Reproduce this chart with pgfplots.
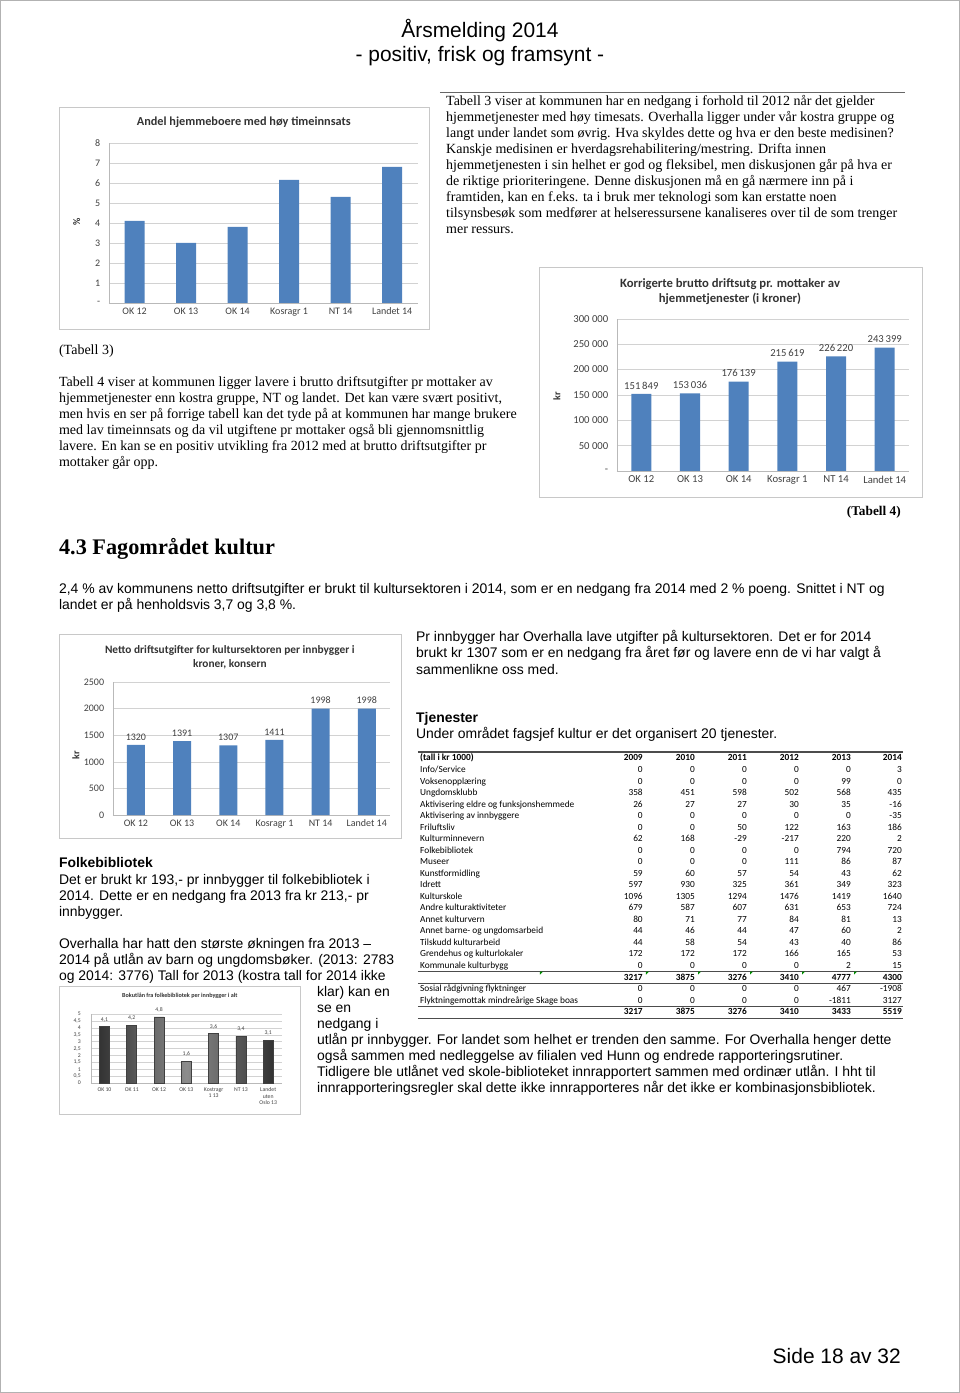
\documentclass[border=0pt]{standalone}
\usepackage{fontspec}
\setmainfont{Liberation Serif}
\newfontfamily\arial{Liberation Sans}
\newfontfamily\calib{Carlito}
\usepackage{pgfplots}
\pgfplotsset{compat=1.18}
\definecolor{xlblue}{HTML}{4F81BD}
\definecolor{framec}{HTML}{C8C8C8}

\pgfplotsset{xlbar/.style={
    ybar, scale only axis, anchor=south west,
    axis lines*=left, axis line style={draw=gray!55},
    ymajorgrids, grid style={gray!35},
    major tick length=0pt, ymin=0,
    xmin=-0.5, xmax=5.5, xtick={0,...,5},
    scaled y ticks=false,
    tick label style={font=\calib\fontsize{7.5}{8}\selectfont, text=black!75},
    yticklabel style={xshift=-3pt},
    /pgf/number format/assume math mode=true,
    every node near coord/.append style={font=\calib\fontsize{7.5}{8}\selectfont, text=black!75},
}}

\newcommand\T[3]{\node[anchor=base west,inner sep=0pt] at (#1,#2) {#3};}
\newcommand\R[8]{%
  \node[anchor=base west,inner sep=0pt] at (420,#1) {#2};
  \node[anchor=base east,inner sep=0pt] at (643,#1) {#3};
  \node[anchor=base east,inner sep=0pt] at (695,#1) {#4};
  \node[anchor=base east,inner sep=0pt] at (747,#1) {#5};
  \node[anchor=base east,inner sep=0pt] at (799,#1) {#6};
  \node[anchor=base east,inner sep=0pt] at (851,#1) {#7};
  \node[anchor=base east,inner sep=0pt] at (902,#1) {#8};}

\begin{document}
\begin{tikzpicture}
\begin{scope}[x=0.75pt,y=-0.75pt]
% page
\draw[gray!60] (0.5,0.5) rectangle (959.5,1392.5);
% header
\node[font=\arial\fontsize{15.7}{18}\selectfont] at (480,31) {Årsmelding 2014};
\node[font=\arial\fontsize{15.7}{18}\selectfont] at (480,56) {- positiv, frisk og framsynt -};
\draw[gray!80!black, line width=0.6pt] (440,93) -- (905,93);

% chart frames
\draw[framec] (59,107) rectangle (429,329);
\draw[framec] (539,267) rectangle (922,497);
\draw[framec] (59,634) rectangle (401,838);
\draw[framec] (59,986) rectangle (300,1114);

% chart titles and axis labels
\node[font=\calib\bfseries\fontsize{9.2}{10}\selectfont, text=black!80] at (244,122) {Andel hjemmeboere med høy timeinnsats};
\node[font=\calib\bfseries\fontsize{7.5}{9}\selectfont, rotate=90, text=black!80] at (77,222) {\%};
\node[font=\calib\bfseries\fontsize{9.5}{10}\selectfont, text=black!80] at (730,284) {Korrigerte brutto driftsutg pr. mottaker av};
\node[font=\calib\bfseries\fontsize{9.5}{10}\selectfont, text=black!80] at (730,299) {hjemmetjenester (i kroner)};
\node[font=\calib\bfseries\fontsize{7.5}{9}\selectfont, rotate=90, text=black!80] at (557,396) {kr};
\node[font=\calib\bfseries\fontsize{8.5}{9}\selectfont, text=black!80] at (230,650) {Netto driftsutgifter for kultursektoren per innbygger i};
\node[font=\calib\bfseries\fontsize{8.5}{9}\selectfont, text=black!80] at (230,664) {kroner, konsern};
\node[font=\calib\bfseries\fontsize{7.5}{9}\selectfont, rotate=90, text=black!80] at (76,755) {kr};
\node[font=\calib\bfseries\fontsize{4.6}{6}\selectfont, text=black!80] at (180,996) {Bokutlån fra folkebibliotek per innbygger i alt};

% anchors for axes
\coordinate (c1) at (109,303);
\coordinate (c2) at (617,471);
\coordinate (c3) at (113,815);
\coordinate (c4) at (91,1083);

% Times text
\begin{scope}[font=\fontsize{10.5}{12}\selectfont]
\T{446}{106}{Tabell 3 viser at kommunen har en nedgang i forhold til 2012 når det gjelder}
\T{446}{122}{hjemmetjenester med høy timesats. Overhalla ligger under vår kostra gruppe og}
\T{446}{138}{langt under landet som øvrig. Hva skyldes dette og hva er den beste medisinen?}
\T{446}{154}{Kanskje medisinen er hverdagsrehabilitering/mestring. Drifta innen}
\T{446}{170}{hjemmetjenesten i sin helhet er god og fleksibel, men diskusjonen går på hva er}
\T{446}{186}{de riktige prioriteringene. Denne diskusjonen må en gå nærmere inn på i}
\T{446}{202}{framtiden, kan en f.eks. ta i bruk mer teknologi som kan erstatte noen}
\T{446}{218}{tilsynsbesøk som medfører at helseressursene kanaliseres over til de som trenger}
\T{446}{234}{mer ressurs.}
\T{59}{355}{(Tabell 3)}
\T{59}{387}{Tabell 4 viser at kommunen ligger lavere i brutto driftsutgifter pr mottaker av}
\T{59}{403}{hjemmetjenester enn kostra gruppe, NT og landet. Det kan være svært positivt,}
\T{59}{419}{men hvis en ser på forrige tabell kan det tyde på at kommunen har mange brukere}
\T{59}{435}{med lav timeinnsats og da vil utgiftene pr mottaker også bli gjennomsnittlig}
\T{59}{451}{lavere. En kan se en positiv utvikling fra 2012 med at brutto driftsutgifter pr}
\T{59}{467}{mottaker går opp.}
\node[anchor=base east, inner sep=0pt, font=\bfseries] at (901,516) {(Tabell 4)};
\end{scope}
\node[anchor=base west, inner sep=0pt, font=\bfseries\fontsize{16.7}{19}\selectfont] at (59,555) {4.3 Fagområdet kultur};

% Arial text
\begin{scope}[font=\arial\fontsize{10.45}{12}\selectfont]
\T{59}{594}{2,4 \% av kommunens netto driftsutgifter er brukt til kultursektoren i 2014, som er en nedgang fra 2014 med 2 \% poeng. Snittet i NT og}
\T{59}{610}{landet er på henholdsvis 3,7 og 3,8 \%.}
\T{416}{642}{Pr innbygger har Overhalla lave utgifter på kultursektoren. Det er for 2014}
\T{416}{658}{brukt kr 1307 som er en nedgang fra året før og lavere enn de vi har valgt å}
\T{416}{674}{sammenlikne oss med.}
\T{416}{722}{\bfseries Tjenester}
\T{416}{738}{Under området fagsjef kultur er det organisert 20 tjenester.}
\T{59}{867}{\bfseries Folkebibliotek}
\T{59}{884}{Det er brukt kr 193,- pr innbygger til folkebibliotek i}
\T{59}{900}{2014. Dette er en nedgang fra 2013 fra kr 213,- pr}
\T{59}{916}{innbygger.}
\T{59}{948}{Overhalla har hatt den største økningen fra 2013 –}
\T{59}{964}{2014 på utlån av barn og ungdomsbøker. (2013: 2783}
\T{59}{980}{og 2014: 3776) Tall for 2013 (kostra tall for 2014 ikke}
\T{317}{996}{klar) kan en}
\T{317}{1012}{se en}
\T{317}{1028}{nedgang i}
\T{317}{1044}{utlån pr innbygger. For landet som helhet er trenden den samme. For Overhalla henger dette}
\T{317}{1060}{også sammen med nedleggelse av filialen ved Hunn og endrede rapporteringsrutiner.}
\T{317}{1076}{Tidligere ble utlånet ved skole-biblioteket innrapportert sammen med ordinær utlån. I hht til}
\T{317}{1092}{innrapporteringsregler skal dette ikke innrapporteres når det ikke er kombinasjonsbibliotek.}
\end{scope}
\node[anchor=base east, inner sep=0pt, font=\arial\fontsize{15.7}{18}\selectfont] at (901,1363) {Side 18 av 32};

% table
\draw[black!70, line width=1pt] (418,752) -- (903,752);
\begin{scope}[font=\calib\bfseries\fontsize{7}{8}\selectfont]
\R{760.5}{(tall i kr 1000)}{2009}{2010}{2011}{2012}{2013}{2014}
\end{scope}
\begin{scope}[font=\calib\fontsize{7}{8}\selectfont]
\R{772.5}{Info/Service}{0}{0}{0}{0}{0}{3}
\R{784}{Voksenopplæring}{0}{0}{0}{0}{99}{0}
\R{795.5}{Ungdomsklubb}{358}{451}{598}{502}{568}{435}
\R{807}{Aktivisering eldre og funksjonshemmede}{26}{27}{27}{30}{35}{-16}
\R{818.5}{Aktivisering av innbyggere}{0}{0}{0}{0}{0}{-35}
\R{830}{Friluftsliv}{0}{0}{50}{122}{163}{186}
\R{841.5}{Kulturminnevern}{62}{168}{-29}{-217}{220}{2}
\R{853}{Folkebibliotek}{0}{0}{0}{0}{794}{720}
\R{864.5}{Museer}{0}{0}{0}{111}{86}{87}
\R{876}{Kunstformidling}{59}{60}{57}{54}{43}{62}
\R{887.5}{Idrett}{597}{930}{325}{361}{349}{323}
\R{899}{Kulturskole}{1096}{1305}{1294}{1476}{1419}{1640}
\R{910.5}{Andre kulturaktiviteter}{679}{587}{607}{631}{653}{724}
\R{922}{Annet kulturvern}{80}{71}{77}{84}{81}{13}
\R{933.5}{Annet barne- og ungdomsarbeid}{44}{46}{44}{47}{60}{2}
\R{945}{Tilskudd kulturarbeid}{44}{58}{54}{43}{40}{86}
\R{956.5}{Grendehus og kulturlokaler}{172}{172}{172}{166}{165}{53}
\R{968}{Kommunale kulturbygg}{0}{0}{0}{0}{2}{15}
\R{991.5}{Sosial rådgivning flyktninger}{0}{0}{0}{0}{467}{-1908}
\R{1003}{Flyktningemottak mindreårige Skage boas}{0}{0}{0}{0}{-1811}{3127}
\end{scope}
\begin{scope}[font=\calib\bfseries\fontsize{7}{8}\selectfont]
\R{980}{}{3217}{3875}{3276}{3410}{4777}{4300}
\R{1014.5}{}{3217}{3875}{3276}{3410}{3433}{5519}
\end{scope}
\draw[black!70, line width=0.6pt] (418,971) -- (903,971);
\draw[black!70, line width=0.6pt] (418,983) -- (903,983);
\draw[black!70, line width=0.6pt] (418,1006) -- (903,1006);
\draw[black!70, line width=0.9pt] (418,1018) -- (903,1018);
\foreach \gx in {540,646,698,750,802,854}{
  \fill[green!55!black] (\gx,971.5) -- (\gx+3,971.5) -- (\gx,974.5) -- cycle;}
\end{scope}

% chart 1
\begin{axis}[xlbar, at={(c1)}, width=231.75pt, height=120pt,
  ymax=8, ytick={0,...,8}, yticklabels={-,1,2,3,4,5,6,7,8},
  bar width=15pt,
  xticklabels={OK 12,OK 13,OK 14,Kosragr 1,NT 14,Landet 14}]
\addplot[fill=xlblue, draw=none] coordinates {(0,4.1) (1,3.0) (2,3.8) (3,6.15) (4,5.3) (5,6.8)};
\end{axis}

% chart 2
\begin{axis}[xlbar, at={(c2)}, width=219pt, height=114pt,
  ymax=300000, ytick={0,50000,100000,150000,200000,250000,300000},
  yticklabels={-,50 000,100 000,150 000,200 000,250 000,300 000},
  bar width=15pt,
  tick label style={font=\calib\fontsize{8}{9}\selectfont, text=black!75},
  every node near coord/.append style={font=\calib\fontsize{8}{9}\selectfont, text=black!75},
  xticklabels={OK 12,OK 13,OK 14,Kosragr 1,NT 14,Landet 14},
  nodes near coords={\pgfmathprintnumber[fixed,precision=0,1000 sep={\,},assume math mode=true]{\pgfplotspointmeta}}]
\addplot[fill=xlblue, draw=none] coordinates {(0,151849) (1,153036) (2,176139) (3,215619) (4,226220) (5,243399)};
\end{axis}

% chart 3
\begin{axis}[xlbar, at={(c3)}, width=207.75pt, height=99.75pt,
  ymax=2500, ytick={0,500,1000,1500,2000,2500},
  yticklabels={0,500,1000,1500,2000,2500},
  bar width=13.5pt,
  xticklabels={OK 12,OK 13,OK 14,Kosragr 1,NT 14,Landet 14},
  nodes near coords={\pgfmathprintnumber[fixed,precision=0,1000 sep={},assume math mode=true]{\pgfplotspointmeta}}]
\addplot[fill=xlblue, draw=none] coordinates {(0,1320) (1,1391) (2,1307) (3,1411) (4,1998) (5,1998)};
\end{axis}

% chart 4
\begin{axis}[xlbar, at={(c4)}, width=143.25pt, height=51.75pt,
  xmax=6.5, xtick={0,...,6},
  ymax=5, ytick={0,0.5,...,5},
  yticklabels={0,{0,5},1,{1,5},2,{2,5},3,{3,5},4,{4,5},5},
  bar width=7.5pt,
  tick label style={font=\calib\fontsize{4.3}{4.8}\selectfont, text=black!75},
  xticklabel style={align=center},
  yticklabel style={xshift=-1pt},
  every node near coord/.append style={font=\calib\fontsize{4.3}{5}\selectfont, text=black!75},
  xticklabels={OK 10,OK 11,OK 12,OK 13,Kostragr\\1 13,NT 13,Landet\\uten\\Oslo 13},
  nodes near coords={\pgfmathprintnumber[fixed,fixed zerofill,precision=1,use comma,assume math mode=true]{\pgfplotspointmeta}}]
\addplot[draw=black!75, left color=black!80, right color=black!80, middle color=black!45]
  coordinates {(0,4.1) (1,4.2) (2,4.8) (3,1.6) (4,3.6) (5,3.4) (6,3.1)};
\end{axis}
\end{tikzpicture}
\end{document}
